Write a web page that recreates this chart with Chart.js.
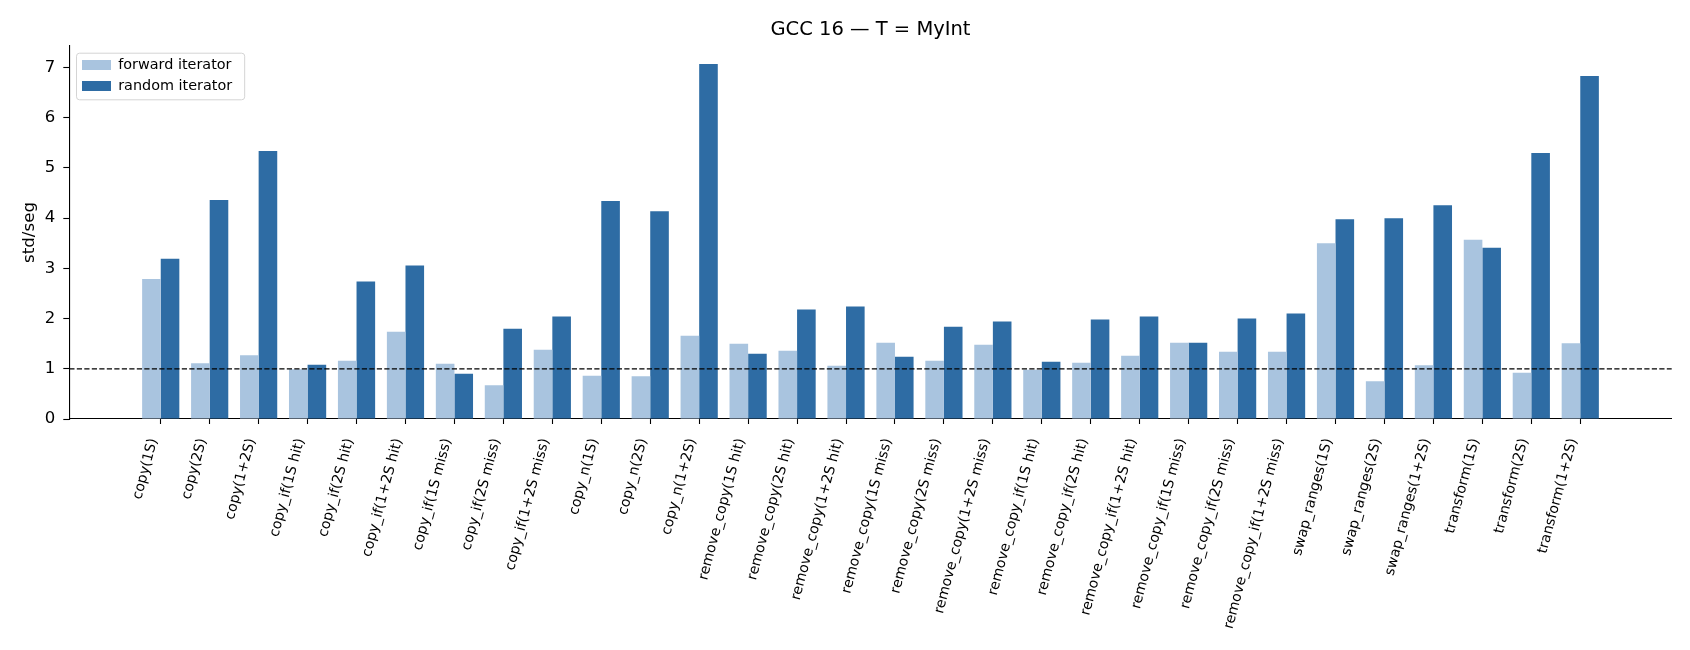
<!DOCTYPE html>
<html>
<head>
<meta charset="utf-8">
<script src="https://cdn.jsdelivr.net/npm/chart.js@4.4.1/dist/chart.umd.min.js"></script>
<style>
    html, body { margin: 0; padding: 0; background: #fff; }
    #wrap { width: 1690px; height: 650px; position: relative; }
</style>
</head>
<body>
<div id="wrap"><canvas id="chart"></canvas></div>
<script>
// benchmark cases, one per x tick
const CATEGORIES = [
    'copy(1S)', 'copy(2S)', 'copy(1+2S)',
    'copy_if(1S hit)', 'copy_if(2S hit)', 'copy_if(1+2S hit)',
    'copy_if(1S miss)', 'copy_if(2S miss)', 'copy_if(1+2S miss)',
    'copy_n(1S)', 'copy_n(2S)', 'copy_n(1+2S)',
    'remove_copy(1S hit)', 'remove_copy(2S hit)', 'remove_copy(1+2S hit)',
    'remove_copy(1S miss)', 'remove_copy(2S miss)', 'remove_copy(1+2S miss)',
    'remove_copy_if(1S hit)', 'remove_copy_if(2S hit)', 'remove_copy_if(1+2S hit)',
    'remove_copy_if(1S miss)', 'remove_copy_if(2S miss)', 'remove_copy_if(1+2S miss)',
    'swap_ranges(1S)', 'swap_ranges(2S)', 'swap_ranges(1+2S)',
    'transform(1S)', 'transform(2S)', 'transform(1+2S)'
];

// std/seg ratio
const FORWARD = [
    2.79, 1.11, 1.27, 0.99, 1.16, 1.74, 1.10, 0.67, 1.38,
    0.86, 0.85, 1.66, 1.50, 1.36, 1.06, 1.52, 1.16, 1.48,
    0.98, 1.12, 1.26, 1.52, 1.34, 1.34, 3.50, 0.75, 1.07,
    3.57, 0.92, 1.51
];
const RANDOM = [
    3.19, 4.36, 5.34, 1.08, 2.74, 3.06, 0.90, 1.80, 2.04,
    4.34, 4.14, 7.07, 1.30, 2.18, 2.24, 1.24, 1.84, 1.94,
    1.14, 1.98, 2.04, 1.52, 2.00, 2.10, 3.98, 4.00, 4.26,
    3.41, 5.30, 6.83
];

const SERIES_NAMES = ['forward iterator', 'random iterator'];
const Y_TICKS = [0, 1, 2, 3, 4, 5, 6, 7];
const REF_LEVEL = 1;      // parity line
const Y_MAX = 7.43;
const X_MIN = -1.868;     // matplotlib 5% margins around the bars
const X_MAX = 30.868;

const FONT = 'DejaVu Sans';
Chart.defaults.font.family = FONT;
Chart.defaults.color = '#000';

const refLine = {
    id: 'refLine',
    afterDatasetsDraw(chart) {
        const { ctx, chartArea, scales } = chart;
        const y = scales.y.getPixelForValue(REF_LEVEL);
        ctx.save();
        ctx.strokeStyle = '#000';
        ctx.lineWidth = 1.3;
        ctx.setLineDash([5.2, 2.3]);
        ctx.beginPath();
        ctx.moveTo(chartArea.left, y);
        ctx.lineTo(chartArea.right, y);
        ctx.stroke();
        ctx.restore();
    }
};

// title centred over the axes, legend tucked inside with a frame
const mplLook = {
    id: 'mplLook',
    afterLayout(chart) {
        const area = chart.chartArea;
        if (chart.titleBlock) {
            chart.titleBlock.left = area.left;
            chart.titleBlock.right = area.right;
        }
        if (chart.legend) {
            chart.legend.left = area.left + 6.1;
            chart.legend.top = area.top + 5.2;
        }
    },
    beforeDraw(chart) {
        const boxes = chart.legend && chart.legend.legendHitBoxes;
        if (!boxes || !boxes.length) return;
        const l = Math.min(...boxes.map(b => b.left)) - 6;
        const t = Math.min(...boxes.map(b => b.top)) - 5.1;
        const r = Math.max(...boxes.map(b => b.left + b.width)) + 12;
        const btm = Math.max(...boxes.map(b => b.top + b.height)) + 6.1;
        const ctx = chart.ctx;
        ctx.save();
        ctx.fillStyle = 'rgba(255,255,255,0.8)';
        ctx.strokeStyle = '#d4d4d4';
        ctx.lineWidth = 1;
        ctx.beginPath();
        ctx.roundRect(l + 0.5, t + 0.5, r - l, btm - t, 3);
        ctx.fill();
        ctx.stroke();
        ctx.restore();
    }
};

const ctx = document.getElementById('chart').getContext('2d');
new Chart(ctx, {
    type: 'bar',
    data: {
        datasets: [
            {
                label: SERIES_NAMES[0],
                data: FORWARD.map((v, i) => ({ x: i, y: v })),
                backgroundColor: '#a9c4df',
                borderWidth: 0
            },
            {
                label: SERIES_NAMES[1],
                data: RANDOM.map((v, i) => ({ x: i, y: v })),
                backgroundColor: '#2e6ca4',
                borderWidth: 0
            }
        ]
    },
    options: {
        responsive: true,
        maintainAspectRatio: false,
        animation: false,
        categoryPercentage: 0.76,
        barPercentage: 1,
        layout: { padding: { left: 0, right: 18.3, top: 0, bottom: 0 } },
        plugins: {
            title: {
                display: true,
                text: 'GCC 16 \u2014 T = MyInt',
                font: { size: 19.5, weight: 'normal', family: FONT },
                color: '#000',
                padding: { top: 18.6, bottom: 4.0 }
            },
            legend: {
                position: 'chartArea',
                align: 'start',
                labels: {
                    boxWidth: 29,
                    boxHeight: 10,
                    padding: 6.6,
                    color: '#000',
                    font: { size: 14.4, family: FONT }
                }
            },
            tooltip: { enabled: false }
        },
        scales: {
            x: {
                type: 'linear',
                offset: false,
                min: X_MIN,
                max: X_MAX,
                afterBuildTicks: axis => { axis.ticks = CATEGORIES.map((c, i) => ({ value: i })); },
                afterFit: axis => { axis.height = 231; },
                grid: { offset: false, drawOnChartArea: false, drawTicks: true, tickLength: 5, tickColor: '#000', tickWidth: 1.1 },
                border: { display: true, color: '#000', width: 1.1 },
                ticks: {
                    autoSkip: false,
                    minRotation: 75,
                    maxRotation: 75,
                    padding: 12.5,
                    labelOffset: -7,
                    color: '#000',
                    font: { size: 14.1, family: FONT },
                    callback: v => CATEGORIES[v]
                }
            },
            y: {
                min: 0,
                max: Y_MAX,
                afterBuildTicks: axis => { axis.ticks = Y_TICKS.map(v => ({ value: v })); },
                afterFit: axis => { axis.width = 69.3; },
                grid: { drawOnChartArea: false, drawTicks: true, tickLength: 6, tickColor: '#000', tickWidth: 1.1 },
                border: { display: true, color: '#000', width: 1.1 },
                ticks: {
                    padding: 8,
                    color: '#000',
                    font: { size: 16.5, family: FONT }
                },
                title: {
                    display: true,
                    text: 'std/seg',
                    color: '#000',
                    font: { size: 16.7, family: FONT },
                    padding: { top: 19.5, bottom: 0 }
                }
            }
        }
    },
    plugins: [refLine, mplLook]
});
</script>
</body>
</html>
